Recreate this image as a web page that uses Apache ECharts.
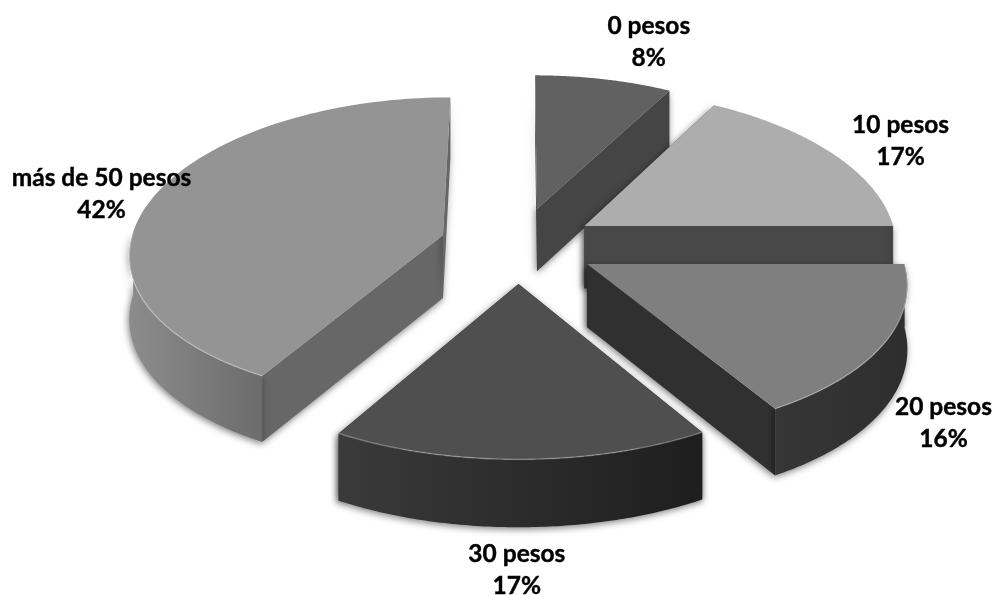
<!DOCTYPE html>
<html>
<head>
<meta charset="utf-8">
<style>html,body{margin:0;padding:0;background:#fff}#c{width:997px;height:595px}</style>
<script src="https://cdn.jsdelivr.net/npm/echarts@6/dist/echarts.min.js"></script>
</head>
<body>
<div id="c"></div>
<script>
const categories = ['0 pesos', '10 pesos', '20 pesos', '30 pesos', 'más de 50 pesos'];
const shares = [8, 17, 16.4, 17, 41.6];

// styling, one entry per slice
const topColors = ['#616161', '#adadad', '#7f7f7f', '#4f4f4f', '#949494'];
const cutColors = ['#454545', '#484848', '#303030', '#303030', '#676767'];
const wallLeft = ['#454545', '#484848', '#363636', '#3a3a3a', '#8c8c8c'];
const wallRight = ['#454545', '#484848', '#2e2e2e', '#1e1e1e', '#6c6c6c'];
const paintOrder = [0, 1, 4, 2, 3];
const labelOffsets = [[45, -37], [68, -12], [60, 78.5], [-4, 110.5], [-52, -3]];

// view of the 3-D pie
const CX = 518, CY = 245, RX = 313, RY = 152, DIST_X = 9, DIST_Y = 11, EXPLODE = 0.25, DEPTH = 63;
const total = shares.reduce((a, b) => a + b, 0);

function project(X, Y, z) {
  const sx = 1 / (1 - Y / DIST_X);
  const sy = 1 / (1 - Y / DIST_Y);
  return [CX + RX * X * sx, CY + RY * Y * sy + z * DEPTH * Math.sqrt(sx)];
}

function renderSlice(params, api) {
  const i = params.dataIndex;
  const value = api.value(1);
  let before = 0;
  for (let k = 0; k < i; k++) before += shares[k];
  const a0 = before / total * 2 * Math.PI;
  const a1 = (before + value) / total * 2 * Math.PI;
  const mid = (a0 + a1) / 2;
  const ox = Math.sin(mid) * EXPLODE, oy = -Math.cos(mid) * EXPLODE;
  const rim = (a, z) => project(ox + Math.sin(a), oy - Math.cos(a), z);
  const n = 96;
  const arcTop = [], wallTop = [], wallBottom = [];
  for (let k = 0; k <= n; k++) {
    const a = a0 + (a1 - a0) * k / n;
    arcTop.push(rim(a, 0));
    if (Math.cos(a) <= 0.03) {
      wallTop.push(rim(a, 0));
      wallBottom.push(rim(a, 1));
    }
  }
  const apexTop = project(ox, oy, 0), apexBottom = project(ox, oy, 1);
  const base = (paintOrder.indexOf(i) + 1) * 10;
  const shadow = { shadowBlur: 7, shadowColor: 'rgba(0,0,0,0.5)', shadowOffsetX: -1, shadowOffsetY: 2 };
  const children = [];
  const face = (p, q) => ({
    type: 'polygon', z2: base,
    shape: { points: [apexTop, p, q, apexBottom] },
    style: Object.assign({ fill: cutColors[i] }, shadow)
  });
  children.push(face(arcTop[0], rim(a0, 1)));
  children.push(face(arcTop[n], rim(a1, 1)));
  if (wallTop.length > 1) {
    children.push({
      type: 'polygon', z2: base + 1,
      shape: { points: wallTop.concat(wallBottom.slice().reverse()) },
      style: Object.assign({
        fill: { type: 'linear', x: 0, y: 0, x2: 1, y2: 0, colorStops: [
          { offset: 0, color: wallLeft[i] }, { offset: 1, color: wallRight[i] }
        ] }
      }, shadow)
    });
  }
  children.push({
    type: 'polygon', z2: base + 2,
    shape: { points: [apexTop].concat(arcTop) },
    style: { fill: topColors[i] }
  });
  children.push({
    type: 'polyline', z2: base + 3,
    shape: { points: wallTop },
    style: { fill: null, stroke: 'rgba(255,255,255,0.3)', lineWidth: 1.4 }
  });
  const anchor = rim(mid, 0);
  children.push({
    type: 'text', z2: 1000,
    style: {
      text: categories[i] + '\n' + Math.round(value / total * 100) + '%',
      x: anchor[0] + labelOffsets[i][0],
      y: anchor[1] + labelOffsets[i][1],
      align: 'center', verticalAlign: 'middle',
      font: 'bold 24.5px Lato', lineHeight: 32, fill: '#000',
      stroke: '#000', lineWidth: 0.4
    }
  });
  return { type: 'group', children };
}

const chart = echarts.init(document.getElementById('c'), null, { renderer: 'canvas' });
chart.setOption({
  animation: false,
  backgroundColor: '#ffffff',
  series: [{
    type: 'custom',
    coordinateSystem: 'none',
    renderItem: renderSlice,
    data: categories.map((name, i) => ({ name, value: [i, shares[i]] }))
  }]
});
</script>
</body>
</html>
